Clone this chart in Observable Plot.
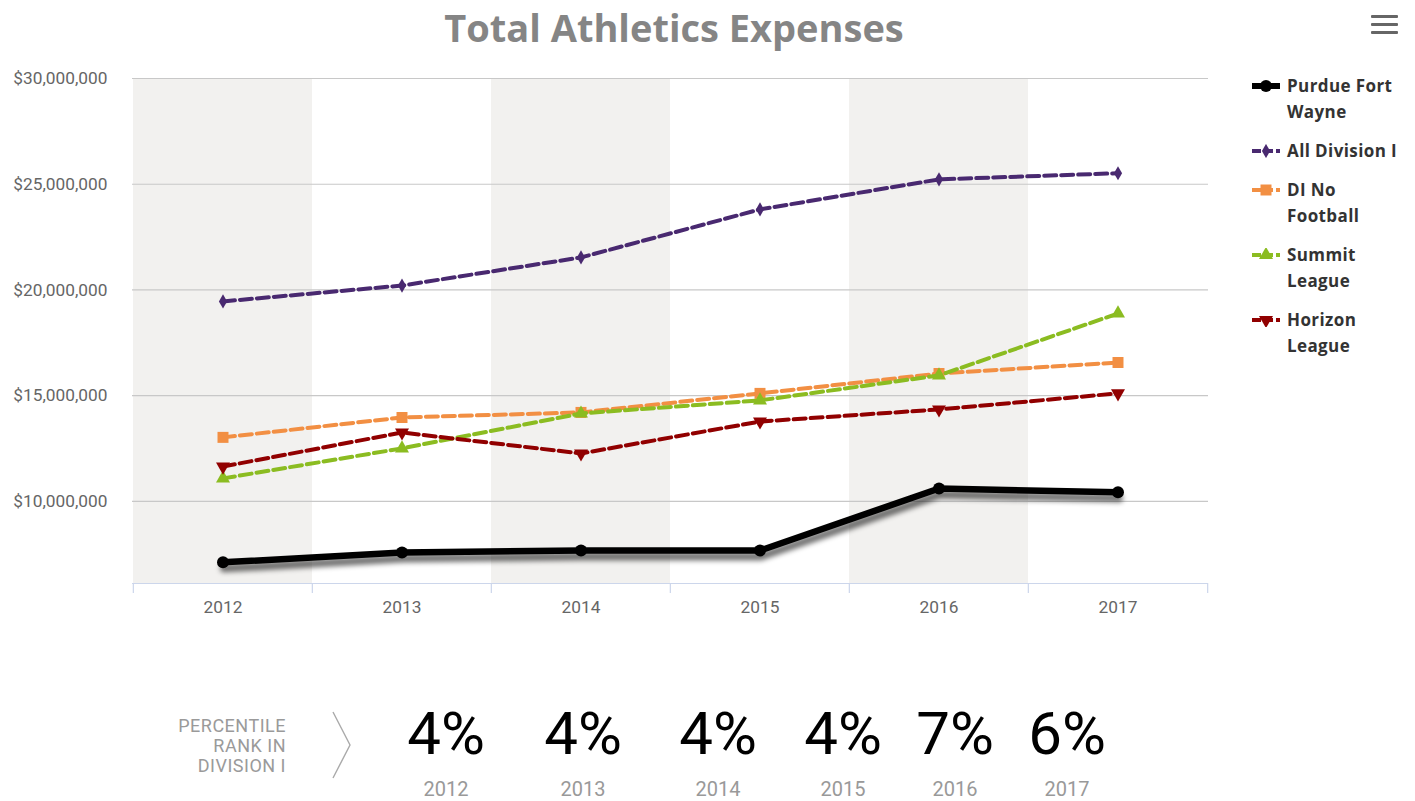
<!DOCTYPE html>
<html>
<head>
<meta charset="utf-8">
<script src="https://cdn.jsdelivr.net/npm/d3@7"></script>
<script src="https://cdn.jsdelivr.net/npm/@observablehq/plot@0.6"></script>
<style>
  html, body { margin: 0; padding: 0; background: #fff; }
  #wrap { position: relative; width: 1415px; height: 801px; overflow: hidden; font-family: Roboto, sans-serif; }
  #title { position: absolute; left: 0; top: 2px; width: 1348px; text-align: center; font-family: "Open Sans", sans-serif; font-weight: 700; font-size: 38px; line-height: 50px; color: #858585; }
  #chart { position: absolute; left: 0; top: 0; }
  #burger { position: absolute; left: 1371px; top: 15px; width: 27px; }
  #burger div { height: 3px; background: #666; margin-bottom: 5px; border-radius: 1px; }
  #legend { position: absolute; left: 1252px; top: 73px; font-family: "Open Sans", sans-serif; font-weight: 700; font-size: 17px; line-height: 26px; color: #333; letter-spacing: 0.4px; }
  .li { display: flex; align-items: flex-start; margin-bottom: 13px; }
  .li svg { flex: none; margin-top: 6px; margin-right: 7px; }
  #rankLabel { position: absolute; left: 0; width: 286px; top: 716px; text-align: right; font-size: 18px; line-height: 20px; color: #9a9a9a; letter-spacing: 0.5px; }
  .rank { position: absolute; width: 140px; text-align: center; }
  .rank .v { font-size: 60px; line-height: 60px; color: #000; position: absolute; top: 704px; width: 140px; }
  .rank .yr { font-size: 20px; line-height: 22px; color: #999; position: absolute; top: 778px; width: 140px; }
</style>
</head>
<body>
<div id="wrap">
  <div id="title">Total Athletics Expenses</div>
  <div id="burger"><div></div><div></div><div></div></div>
  <div id="legend"></div>
  <div id="rankLabel">PERCENTILE<br>RANK IN<br>DIVISION I</div>
</div>
<script>
// ---- Data ----
const years = ["2012", "2013", "2014", "2015", "2016", "2017"];
const purdueFortWayne = [7.12e6, 7.59e6, 7.68e6, 7.68e6, 10.61e6, 10.43e6];
const allDivisionI   = [19.46e6, 20.21e6, 21.54e6, 23.81e6, 25.23e6, 25.52e6];
const diNoFootball   = [13.03e6, 13.97e6, 14.21e6, 15.11e6, 16.05e6, 16.57e6];
const summitLeague   = [11.09e6, 12.51e6, 14.16e6, 14.78e6, 15.96e6, 18.89e6];
const horizonLeague  = [11.65e6, 13.26e6, 12.27e6, 13.78e6, 14.35e6, 15.11e6];
const seriesNames = ["Purdue Fort Wayne", "All Division I", "DI No Football", "Summit League", "Horizon League"];
const yTicks = [10e6, 15e6, 20e6, 25e6, 30e6];
const shadedYears = ["2012", "2014", "2016"];
const percentileRanks = ["4%", "4%", "4%", "4%", "7%", "6%"];

// ---- Layout / style ----
const W = 1230, H = 640, mL = 132, mR = 22, mT = 78, mB = 57;
const yDomain = [6.12e6, 30e6];
const bandW = (W - mL - mR) / years.length;
const styles = {
  "Purdue Fort Wayne": {color: "#000000", symbol: "circle", r: 6, width: 6.5, dash: null, rotate: 0},
  "All Division I": {color: "#492970", symbol: "diamond", r: 4.3, width: 4, dash: "12,5", rotate: 0},
  "DI No Football": {color: "#f28f43", symbol: "square", r: 6.2, width: 4, dash: "12,5", rotate: 0},
  "Summit League": {color: "#8bbc21", symbol: "triangle", r: 5.2, width: 4, dash: "12,5", rotate: 0},
  "Horizon League": {color: "#910000", symbol: "triangle", r: 5.2, width: 4, dash: "12,5", rotate: 180}
};
const valuesBy = {
  "Purdue Fort Wayne": purdueFortWayne,
  "All Division I": allDivisionI,
  "DI No Football": diNoFootball,
  "Summit League": summitLeague,
  "Horizon League": horizonLeague
};
const rows = name => years.map((yr, i) => ({year: yr, value: valuesBy[name][i], series: name}));

const seriesMarks = [];
for (const name of seriesNames.slice(1)) {
  const s = styles[name];
  seriesMarks.push(Plot.line(rows(name), {x: "year", y: "value", stroke: s.color, strokeWidth: s.width, strokeDasharray: s.dash}));
  seriesMarks.push(Plot.dot(rows(name), {x: "year", y: "value", fill: s.color, symbol: s.symbol, r: s.r, rotate: s.rotate}));
}
const pfw = styles["Purdue Fort Wayne"];
const pfwRows = rows("Purdue Fort Wayne");
const SHADOW_OPACITY = 0.55;

const chart = Plot.plot({
  width: W, height: H,
  marginLeft: mL, marginRight: mR, marginTop: mT, marginBottom: mB,
  style: {fontFamily: "Roboto, sans-serif", fontSize: "17.3px", color: "#666", background: "transparent", overflow: "visible"},
  x: {type: "band", domain: years, padding: 0, tickSize: 0, tickPadding: 17, label: null},
  y: {domain: yDomain, ticks: yTicks, tickSize: 0, tickPadding: 25, label: null,
      tickFormat: d => "$" + d3.format(",")(d)},
  marks: [
    Plot.cell(shadedYears, {x: d => d, fill: "#f2f1ef"}),
    Plot.ruleY(yTicks, {stroke: "#c8c8c8", strokeWidth: 1.2}),
    Plot.ruleY([yDomain[0]], {stroke: "#ccd6eb", strokeWidth: 1.2}),
    Plot.ruleX(years, {x: d => d, dx: -bandW / 2, stroke: "#ccd6eb", strokeWidth: 1.2, insetTop: H - mT - mB, insetBottom: -10}),
    Plot.ruleX([years[years.length - 1]], {x: d => d, dx: bandW / 2, stroke: "#ccd6eb", strokeWidth: 1.2, insetTop: H - mT - mB, insetBottom: -10}),
    ...seriesMarks,
    Plot.line(pfwRows, {x: "year", y: "value", stroke: "#000", strokeOpacity: SHADOW_OPACITY, strokeWidth: 8, dx: 1, dy: 6}),
    Plot.line(pfwRows, {x: "year", y: "value", stroke: pfw.color, strokeWidth: pfw.width}),
    Plot.dot(pfwRows, {x: "year", y: "value", fill: pfw.color, r: pfw.r})
  ]
});
chart.id = "chart";
document.getElementById("wrap").appendChild(chart);

// blurred shadow for the Purdue Fort Wayne line
const svg = d3.select(chart);
const defs = svg.insert("defs", ":first-child");
defs.append("filter").attr("id", "blurShadow").attr("filterUnits", "userSpaceOnUse")
  .attr("x", 0).attr("y", 0).attr("width", W).attr("height", H)
  .append("feGaussianBlur").attr("stdDeviation", 2.4);
svg.selectAll("[stroke-opacity]").filter(function() { return +this.getAttribute("stroke-opacity") === SHADOW_OPACITY; })
  .attr("filter", "url(#blurShadow)");

// legend
const legend = d3.select("#legend");
const legendLabels = {"Purdue Fort Wayne": "Purdue Fort<br>Wayne", "All Division I": "All Division I",
  "DI No Football": "DI No<br>Football", "Summit League": "Summit<br>League", "Horizon League": "Horizon<br>League"};
for (const name of seriesNames) {
  const s = styles[name];
  const item = legend.append("div").attr("class", "li");
  const sv = item.append("svg").attr("width", 28).attr("height", 14);
  sv.append("line").attr("x1", 0).attr("x2", 28).attr("y1", 7).attr("y2", 7)
    .attr("stroke", s.color).attr("stroke-width", name === "Purdue Fort Wayne" ? 6 : 4)
    .attr("stroke-dasharray", name === "Purdue Fort Wayne" ? null : "9,3");
  const sym = {circle: d3.symbolCircle, diamond: d3.symbolDiamond, square: d3.symbolSquare, triangle: d3.symbolTriangle}[s.symbol];
  sv.append("path").attr("d", d3.symbol(sym, Math.PI * s.r * s.r)())
    .attr("transform", `translate(14,7) rotate(${s.rotate})`).attr("fill", s.color);
  item.append("span").html(legendLabels[name]);
}

// percentile ranks
const rankCenters = [446, 583, 718, 843, 955, 1067];
const wrap = d3.select("#wrap");
const chev = wrap.append("svg").style("position", "absolute").style("left", "326px").style("top", "708px")
  .attr("width", 30).attr("height", 74);
chev.append("polyline").attr("points", "7,4 24,37 7,70").attr("fill", "none").attr("stroke", "#aaa").attr("stroke-width", 1.4);
percentileRanks.forEach((v, i) => {
  const d = wrap.append("div").attr("class", "rank").style("left", (rankCenters[i] - 70) + "px");
  d.append("div").attr("class", "v").text(v);
  d.append("div").attr("class", "yr").text(years[i]);
});
</script>
</body>
</html>
